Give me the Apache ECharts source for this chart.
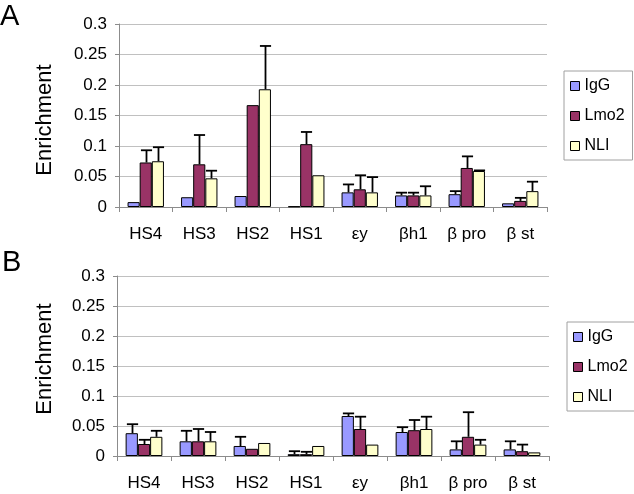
<!DOCTYPE html>
<html>
<head>
<meta charset="utf-8">
<script src="https://cdn.jsdelivr.net/npm/echarts@6/dist/echarts.min.js"></script>
<style>html,body{margin:0;padding:0;background:#fff}#c{width:634px;height:494px}</style>
</head>
<body>
<div id="c"></div>
<script>
const categories = ['HS4', 'HS3', 'HS2', 'HS1', 'εy', 'βh1', 'β pro', 'β st'];
const seriesNames = ['IgG', 'Lmo2', 'NLI'];
const yTicks = [0, 0.05, 0.1, 0.15, 0.2, 0.25, 0.3];

// Panel A values and error-bar tops (null = no error bar)
const aIgG = [0.008, 0.016, 0.018, 0.001, 0.024, 0.019, 0.021, 0.006];
const aLmo2 = [0.073, 0.070, 0.167, 0.103, 0.029, 0.019, 0.064, 0.010];
const aNLI = [0.075, 0.047, 0.193, 0.052, 0.024, 0.019, 0.059, 0.026];
const aIgGErr = [null, null, null, null, 0.037, 0.0235, 0.026, null];
const aLmo2Err = [0.093, 0.118, null, 0.123, 0.052, 0.0235, 0.083, 0.015];
const aNLIErr = [0.098, 0.0595, 0.264, null, 0.049, 0.034, 0.060, 0.0415];

// Panel B values and error-bar tops
const bIgG = [0.038, 0.0245, 0.0167, 0.003, 0.0667, 0.040, 0.011, 0.011];
const bLmo2 = [0.020, 0.0245, 0.012, 0.003, 0.045, 0.043, 0.032, 0.008];
const bNLI = [0.032, 0.0245, 0.0217, 0.0167, 0.019, 0.045, 0.019, 0.006];
const bIgGErr = [0.053, 0.042, 0.032, 0.008, 0.071, 0.048, 0.0245, 0.0245];
const bLmo2Err = [0.027, 0.045, null, 0.007, 0.0655, 0.060, 0.073, 0.019];
const bNLIErr = [0.042, 0.040, null, null, null, 0.0655, 0.027, null];

const colors = ['#9999FF', '#993366', '#FFFFCC'];
const FONT = '"Liberation Sans", Arial, sans-serif';
const CATGAP = 0.32;

function errRender(k) {
  return function (params, api) {
    const ci = api.value(0), v = api.value(1), t = api.value(2);
    const band = api.size([1, 0])[0];
    const bw = band * (1 - CATGAP) / 3;
    const off = (k - 1) * bw;
    const p0 = api.coord([ci, v]);
    const p1 = api.coord([ci, t]);
    const x = Math.round(p0[0] + off) + 0.5;
    const cw = bw * 0.46;
    return {
      type: 'group',
      children: [
        { type: 'line', shape: { x1: x, y1: p0[1], x2: x, y2: p1[1] }, style: { stroke: '#000', lineWidth: 1.8 } },
        { type: 'line', shape: { x1: x - cw, y1: p1[1], x2: x + cw, y2: p1[1] }, style: { stroke: '#000', lineWidth: 1.8 } }
      ]
    };
  };
}

function errData(vals, errs) {
  const out = [];
  vals.forEach((v, i) => { if (errs[i] != null) out.push([i, v, errs[i]]); });
  return out;
}

function xAxisCfg(gi) {
  return {
    type: 'category', gridIndex: gi, data: categories,
    axisLine: { lineStyle: { color: '#8c8c8c', width: 1 } },
    axisTick: { show: true, length: 5, lineStyle: { color: '#8c8c8c' } },
    axisLabel: { color: '#000', fontSize: 17, fontFamily: FONT, margin: 19 },
    splitLine: { show: false }
  };
}
function yAxisCfg(gi) {
  return {
    type: 'value', gridIndex: gi, min: 0, max: 0.3, interval: 0.05,
    axisLine: { show: true, lineStyle: { color: '#8c8c8c', width: 1 } },
    axisTick: { show: true, length: 4, lineStyle: { color: '#8c8c8c' } },
    axisLabel: { color: '#000', fontSize: 17, fontFamily: FONT, margin: 12,
      formatter: v => { const f = yTicks.find(t => Math.abs(t - v) < 1e-9); return String(f !== undefined ? f : v); } },
    splitLine: { show: true, lineStyle: { color: '#c0c0c0', width: 1 } }
  };
}

const panels = [
  { vals: [aIgG, aLmo2, aNLI], errs: [aIgGErr, aLmo2Err, aNLIErr] },
  { vals: [bIgG, bLmo2, bNLI], errs: [bIgGErr, bLmo2Err, bNLIErr] }
];

const series = [];
panels.forEach((p, gi) => {
  p.vals.forEach((vals, k) => {
    series.push({
      type: 'bar', name: seriesNames[k], xAxisIndex: gi, yAxisIndex: gi,
      data: vals, barGap: '0%', barCategoryGap: (CATGAP * 100) + '%',
      itemStyle: { color: colors[k], borderColor: '#000', borderWidth: 1 },
      emphasis: { disabled: true }, animation: false
    });
  });
  p.vals.forEach((vals, k) => {
    series.push({
      type: 'custom', name: 'err' + gi + k, xAxisIndex: gi, yAxisIndex: gi,
      renderItem: errRender(k), data: errData(vals, p.errs[k]),
      encode: { x: 0, y: [1, 2] }, z: 5, silent: true, animation: false
    });
  });
});

function legendCfg(left, top) {
  return {
    data: seriesNames, orient: 'vertical', left: left, top: top,
    icon: 'rect', itemWidth: 9, itemHeight: 9, itemGap: 14,
    padding: [7, 8, 6, 6], borderColor: '#a0a0a0', borderWidth: 1,
    itemStyle: { borderColor: '#000', borderWidth: 1 },
    textStyle: { color: '#000', fontSize: 16, fontFamily: FONT, lineHeight: 16 },
    selectedMode: false
  };
}

const option = {
  animation: false,
  backgroundColor: '#fff',
  grid: [
    { left: 119, top: 24, width: 428, height: 183 },
    { left: 117, top: 276, width: 432, height: 180 }
  ],
  xAxis: [xAxisCfg(0), xAxisCfg(1)],
  yAxis: [yAxisCfg(0), yAxisCfg(1)],
  legend: [legendCfg(564, 71), legendCfg(567, 322)],
  series: series,
  graphic: [
    { type: 'text', left: 0, top: 2, style: { text: 'A', fontSize: 29, fontFamily: FONT, fill: '#000' } },
    { type: 'text', left: 2, top: 248, style: { text: 'B', fontSize: 29, fontFamily: FONT, fill: '#000' } },
    { type: 'text', x: 45, y: 120, rotation: Math.PI / 2, style: { text: 'Enrichment', fontSize: 22, fontFamily: FONT, fill: '#000', align: 'center', verticalAlign: 'middle' } },
    { type: 'text', x: 45, y: 359, rotation: Math.PI / 2, style: { text: 'Enrichment', fontSize: 22, fontFamily: FONT, fill: '#000', align: 'center', verticalAlign: 'middle' } }
  ]
};

const chart = echarts.init(document.getElementById('c'), null, { renderer: 'canvas' });
chart.setOption(option);
</script>
</body>
</html>
